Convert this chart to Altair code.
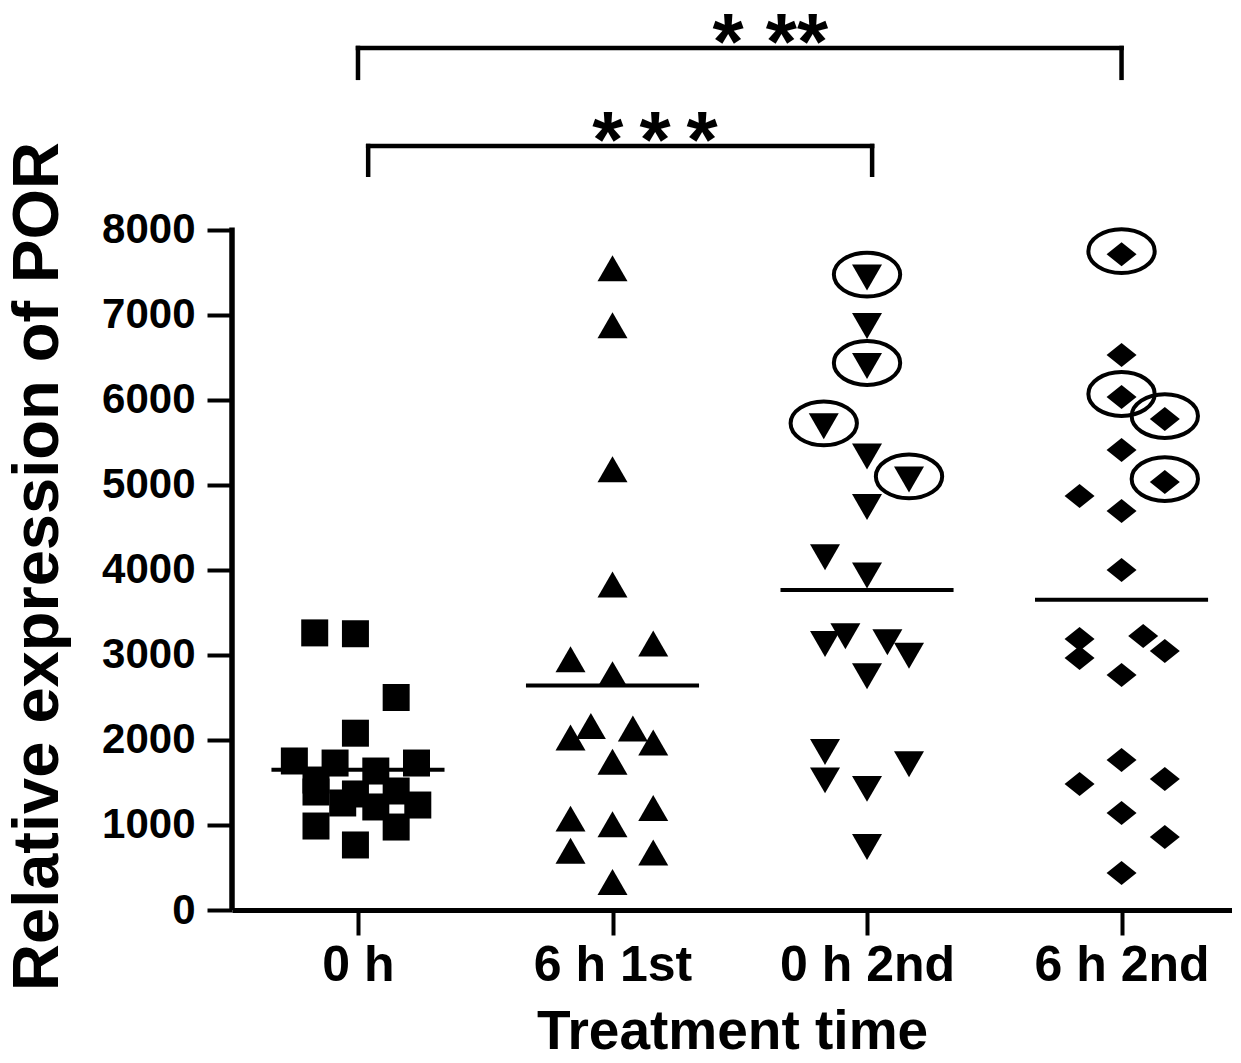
import altair as alt
import pandas as pd

groups = ["0 h", "6 h 1st", "0 h 2nd", "6 h 2nd"]

# values; offsets = horizontal scatter within a column (category units)
vals_0h = [3260, 3250, 2500, 2080, 1753, 1729, 1635, 1729, 1529, 1388, 1365, 1400, 1259, 1212, 1235, 988, 765, 976]
off_0h = [-0.17, -0.01, 0.15, -0.01, -0.25, -0.09, 0.07, 0.23, -0.165, -0.165, -0.01, 0.15, -0.06, 0.07, 0.235, -0.165, -0.01, 0.15]

vals_6h1 = [7550, 6880, 5185, 3830, 2950, 3135, 2775, 2030, 2165, 2135, 1970, 1745, 1075, 1010, 1200, 697, 676, 330]
off_6h1 = [0, 0, 0, 0, -0.165, 0.16, 0, -0.165, -0.085, 0.08, 0.16, 0, -0.165, 0, 0.16, -0.165, 0.16, 0]

vals_0h2 = [7440, 6870, 6400, 5690, 5335, 5065, 4740, 4150, 3935, 3130, 3220, 3150, 2990, 2750, 1860, 1525, 1425, 1715, 740]
off_0h2 = [0, 0, 0, -0.17, 0, 0.165, 0, -0.165, 0, -0.165, -0.085, 0.08, 0.165, 0, -0.165, -0.165, 0, 0.165, 0]
circ_0h2 = [1, 0, 1, 1, 0, 1, 0, 0, 0, 0, 0, 0, 0, 0, 0, 0, 0, 0, 0]

vals_6h2 = [7716, 6530, 6035, 5776, 5412, 4871, 4694, 5035, 4000, 3188, 2965, 3224, 3047, 2765, 1765, 1482, 1541, 1141, 859, 435]
off_6h2 = [0, 0, 0, 0.17, 0, -0.165, 0, 0.17, 0, -0.165, -0.165, 0.085, 0.17, 0, 0, -0.165, 0.17, 0, 0.17, 0]
circ_6h2 = [1, 0, 1, 1, 0, 0, 0, 1, 0, 0, 0, 0, 0, 0, 0, 0, 0, 0, 0, 0]

means = [1650, 2640, 3765, 3650]

y_ticks = [0, 1000, 2000, 3000, 4000, 5000, 6000, 7000, 8000]

# significance brackets: (x start, x end, y start, y end)
brackets = [
    (1.0, 4.0, 10141, 10141), (1.0, 1.0, 10141, 9790), (4.0, 4.0, 10141, 9790),
    (1.04, 3.02, 8988, 8988), (1.04, 1.04, 8988, 8650), (3.02, 3.02, 8988, 8650),
]
stars = [(2.62, 9894, "* **"), (2.167, 8741, "*\u2009*\u2009*")]

FONT = "Liberation Sans"
XDOM = [0.505, 4.434]
YDOM = [0, 10588]

def pts(vals, offs, gi, circ=None):
    circ = circ or [0] * len(vals)
    return pd.DataFrame({"x": [gi + 1 + o for o in offs], "y": vals, "c": circ})

d0 = pts(vals_0h, off_0h, 0)
d1 = pts(vals_6h1, off_6h1, 1)
d2 = pts(vals_0h2, off_0h2, 2, circ_0h2)
d3 = pts(vals_6h2, off_6h2, 3, circ_6h2)
circled = pd.concat([d2[d2.c == 1], d3[d3.c == 1]])

xs = alt.Scale(domain=XDOM, nice=False, zero=False)
ys = alt.Scale(domain=YDOM, nice=False, zero=False)

label_expr = "[" + ",".join("'" + g + "'" for g in groups) + "][datum.value - 1]"

x_axis = alt.Axis(values=[1, 2, 3, 4], labelExpr=label_expr, grid=False, title="Treatment time",
                  domainColor="black", domainWidth=5, tickColor="black", tickWidth=4, tickSize=25,
                  labelFont=FONT, labelFontWeight="bold", labelFontSize=50, labelColor="black",
                  labelPadding=5, titleFont=FONT, titleFontWeight="bold", titleFontSize=55,
                  titleColor="black", titlePadding=15)
y_axis = alt.Axis(values=y_ticks, format="d", grid=False, domain=False, title="Relative expression of POR",
                  tickColor="black", tickWidth=4, tickSize=25, labelFont=FONT, labelFontWeight="bold",
                  labelFontSize=42, labelColor="black", labelPadding=12, titleFont=FONT,
                  titleFontWeight="bold", titleFontSize=65, titleColor="black",
                  titleAngle=-90, titleX=-195, titleY=556, titleBaseline="middle", titleAlign="center")

TRI_UP = "M 0 -0.866 L 1 0.866 L -1 0.866 Z"
TRI_DOWN = "M 0 0.866 L 1 -0.866 L -1 -0.866 Z"
DIAMOND = "M -1 0 L 0 -0.8 L 1 0 L 0 0.8 Z"
ELLIPSE = "M -1 0 A 1 0.66 0 1 1 1 0 A 1 0.66 0 1 1 -1 0 Z"

def scatter(df, shape, size):
    return alt.Chart(df).mark_point(shape=shape, filled=True, size=size, color="black",
                                    opacity=1, strokeWidth=0).encode(
        x=alt.X("x:Q", scale=xs, axis=x_axis), y=alt.Y("y:Q", scale=ys, axis=y_axis))

l0 = scatter(d0, "square", 729)
l1 = scatter(d1, TRI_UP, 900)
l2 = scatter(d2, TRI_DOWN, 900)
l3 = scatter(d3, DIAMOND, 900)

rings = alt.Chart(circled).mark_point(shape=ELLIPSE, filled=False, size=4400, color="black",
                                      opacity=1, strokeWidth=4, yOffset=-3).encode(
    x=alt.X("x:Q", scale=xs), y=alt.Y("y:Q", scale=ys))

mdf = pd.DataFrame({"x1": [i + 1 - 0.34 for i in range(4)], "x2": [i + 1 + 0.34 for i in range(4)], "m": means})
mean_rules = alt.Chart(mdf).mark_rule(color="black", strokeWidth=4).encode(
    x=alt.X("x1:Q", scale=xs), x2="x2:Q", y=alt.Y("m:Q", scale=ys))

adf = pd.DataFrame({"y": [0], "y2": [8030]})
yline = alt.Chart(adf).mark_rule(color="black", strokeWidth=5.5).encode(
    x=alt.value(0), y=alt.Y("y:Q", scale=ys), y2="y2:Q")

bdf = pd.DataFrame(brackets, columns=["x", "x2", "y", "y2"])
brk = alt.Chart(bdf).mark_rule(color="black", strokeWidth=4.5, strokeCap="square").encode(
    x=alt.X("x:Q", scale=xs), x2="x2:Q", y=alt.Y("y:Q", scale=ys), y2="y2:Q")

sdf = pd.DataFrame(stars, columns=["x", "y", "t"])
st = alt.Chart(sdf).mark_text(font=FONT, fontWeight="bold", fontSize=80, color="black",
                              baseline="alphabetic", align="center").encode(
    x=alt.X("x:Q", scale=xs), y=alt.Y("y:Q", scale=ys), text="t:N")

chart = alt.layer(l0, l1, l2, l3, rings, mean_rules, yline, brk, st).properties(
    width=1000, height=900,
    autosize=alt.AutoSizeParams(type="none"),
    padding={"left": 224, "top": 2, "right": 0, "bottom": 145},
    background="white",
).configure_view(stroke=None)

chart.save("out.html", embed_options={"renderer": "svg", "actions": False})
